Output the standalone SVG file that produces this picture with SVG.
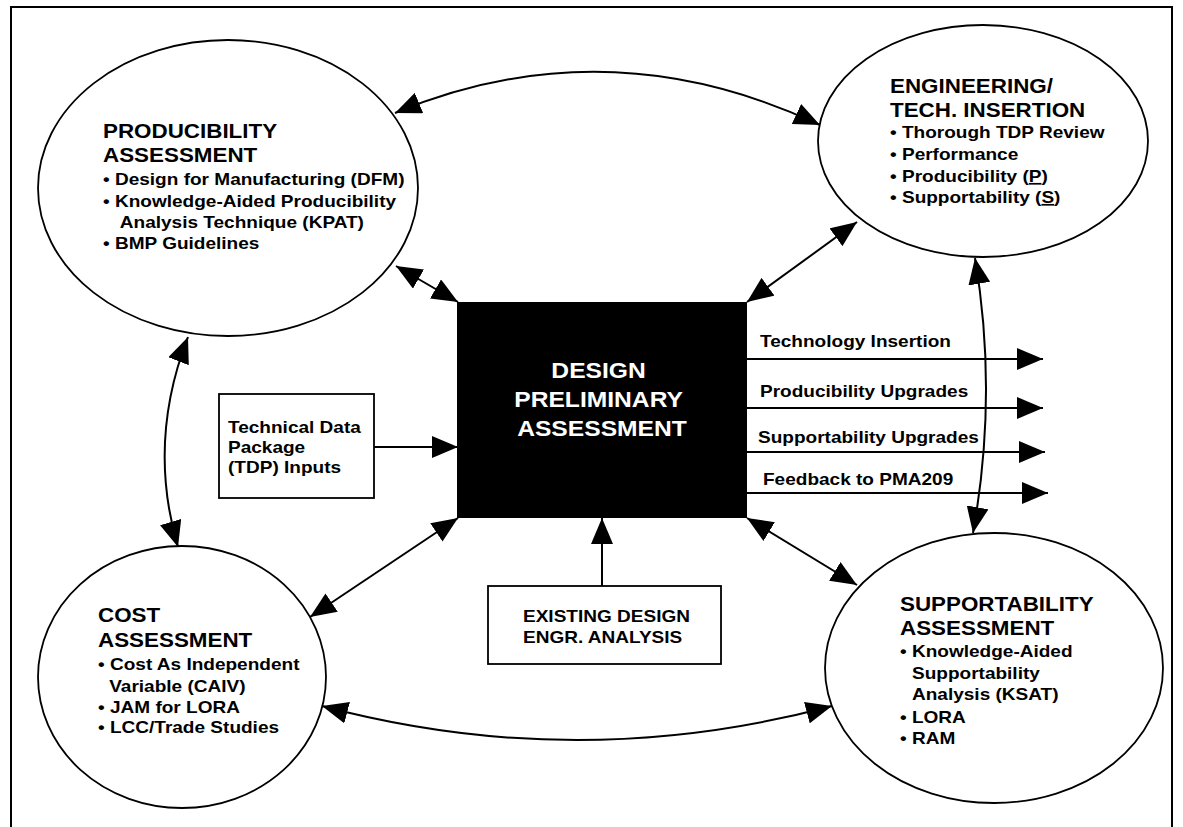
<svg xmlns="http://www.w3.org/2000/svg" width="1183" height="827" viewBox="0 0 1183 827">
<style>
.bg{fill:#fff}
.frame{fill:none;stroke:#000;stroke-width:2}
.ell{fill:#fff;stroke:#000;stroke-width:1.8}
.box{fill:#fff;stroke:#000;stroke-width:1.8}
.conn{fill:none;stroke:#000;stroke-width:2}
text{font-family:"Liberation Sans",Arial,Helvetica,sans-serif;font-weight:bold;fill:#000}
.h{font-size:20px}
.b{font-size:17px}
.c{font-size:22px;fill:#fff}
</style>
<defs>
<marker id="ah" viewBox="0 0 26 22" markerWidth="26" markerHeight="22" refX="26" refY="11" orient="auto-start-reverse" markerUnits="userSpaceOnUse">
<path d="M0,0 L26,11 L0,22 Z" fill="#000"/>
</marker>
</defs>
<rect class="bg" x="0" y="0" width="1183" height="827"/>
<path class="frame" d="M11,840 L11,7 L1172,7 L1172,840"/>

<g id="connectors">
<path class="conn" d="M395,113 Q607,25 820,125" marker-start="url(#ah)" marker-end="url(#ah)"/>
<path class="conn" d="M396,266 L458,302" marker-start="url(#ah)" marker-end="url(#ah)"/>
<path class="conn" d="M857,222 L747,302" marker-start="url(#ah)" marker-end="url(#ah)"/>
<path class="conn" d="M975,258 Q998,394 973,533" marker-start="url(#ah)" marker-end="url(#ah)"/>
<path class="conn" d="M188,337 Q147,442 178,547" marker-start="url(#ah)" marker-end="url(#ah)"/>
<path class="conn" d="M310,617 L458,518" marker-start="url(#ah)" marker-end="url(#ah)"/>
<path class="conn" d="M322,706 Q577,774 832,706" marker-start="url(#ah)" marker-end="url(#ah)"/>
<path class="conn" d="M747,518 L857,585" marker-start="url(#ah)" marker-end="url(#ah)"/>
<path class="conn" d="M374,447 L458,447" marker-end="url(#ah)"/>
<path class="conn" d="M602,586 L602,518" marker-end="url(#ah)"/>
<path class="conn" d="M747,359 L1043,359" marker-end="url(#ah)"/>
<path class="conn" d="M747,408 L1043,408" marker-end="url(#ah)"/>
<path class="conn" d="M747,452 L1045,452" marker-end="url(#ah)"/>
<path class="conn" d="M747,493 L1048,493" marker-end="url(#ah)"/>
</g>

<g id="producibility">
<ellipse class="ell" cx="228" cy="188" rx="190" ry="148"/>
<text transform="translate(103,0) scale(1.12,1)">
<tspan class="h" x="0" y="138">PRODUCIBILITY</tspan>
<tspan class="h" x="0" y="162">ASSESSMENT</tspan>
<tspan class="b" x="0" y="185">• Design for Manufacturing (DFM)</tspan>
<tspan class="b" x="0" y="207">• Knowledge-Aided Producibility</tspan>
<tspan class="b" x="15" y="228">Analysis Technique (KPAT)</tspan>
<tspan class="b" x="0" y="249">• BMP Guidelines</tspan>
</text>
</g>

<g id="engineering">
<ellipse class="ell" cx="983" cy="141" rx="165" ry="116"/>
<text transform="translate(890,0) scale(1.12,1)">
<tspan class="h" x="0" y="93">ENGINEERING/</tspan>
<tspan class="h" x="0" y="117">TECH. INSERTION</tspan>
<tspan class="b" x="0" y="138">• Thorough TDP Review</tspan>
<tspan class="b" x="0" y="160">•  Performance</tspan>
<tspan class="b" x="0" y="182">•  Producibility (<tspan text-decoration="underline">P</tspan>)</tspan>
<tspan class="b" x="0" y="203">•  Supportability (<tspan text-decoration="underline">S</tspan>)</tspan>
</text>
</g>

<g id="cost">
<ellipse class="ell" cx="182" cy="677" rx="144" ry="131"/>
<text transform="translate(98,0) scale(1.12,1)">
<tspan class="h" x="0" y="622">COST</tspan>
<tspan class="h" x="0" y="647">ASSESSMENT</tspan>
<tspan class="b" x="0" y="670">• Cost As Independent</tspan>
<tspan class="b" x="10" y="692">Variable (CAIV)</tspan>
<tspan class="b" x="0" y="713">• JAM for LORA</tspan>
<tspan class="b" x="0" y="733">•  LCC/Trade Studies</tspan>
</text>
</g>

<g id="supportability">
<ellipse class="ell" cx="994" cy="668" rx="169" ry="135"/>
<text transform="translate(900,0) scale(1.12,1)">
<tspan class="h" x="0" y="611">SUPPORTABILITY</tspan>
<tspan class="h" x="0" y="635">ASSESSMENT</tspan>
<tspan class="b" x="0" y="657">• Knowledge-Aided</tspan>
<tspan class="b" x="10.7" y="679">Supportability</tspan>
<tspan class="b" x="10.7" y="700">Analysis (KSAT)</tspan>
<tspan class="b" x="0" y="723">• LORA</tspan>
<tspan class="b" x="0" y="744">• RAM</tspan>
</text>
</g>

<g id="design-preliminary">
<rect x="457" y="302" width="290" height="216" fill="#000"/>
<text class="c" text-anchor="middle" transform="translate(602,0) scale(1.12,1)">
<tspan x="0" y="378">DESIGN</tspan>
<tspan x="0" y="407">PRELIMINARY</tspan>
<tspan x="0" y="436">ASSESSMENT</tspan>
</text>
</g>

<g id="tdp-inputs">
<rect class="box" x="219" y="394" width="155" height="104"/>
<text class="b" transform="translate(228,0) scale(1.12,1)">
<tspan x="0" y="433">Technical Data</tspan>
<tspan x="0" y="453">Package</tspan>
<tspan x="0" y="473">(TDP) Inputs</tspan>
</text>
</g>

<g id="existing-design">
<rect class="box" x="488" y="586" width="233" height="78"/>
<text class="b" transform="translate(523,0) scale(1.12,1)">
<tspan x="0" y="622">EXISTING DESIGN</tspan>
<tspan x="0" y="643">ENGR. ANALYSIS</tspan>
</text>
</g>

<g id="output-labels">
<text class="b" transform="translate(760,0) scale(1.12,1)"><tspan x="0" y="347">Technology Insertion</tspan></text>
<text class="b" transform="translate(760,0) scale(1.12,1)"><tspan x="0" y="397">Producibility Upgrades</tspan></text>
<text class="b" transform="translate(758,0) scale(1.12,1)"><tspan x="0" y="443">Supportability Upgrades</tspan></text>
<text class="b" transform="translate(763,0) scale(1.12,1)"><tspan x="0" y="485">Feedback to PMA209</tspan></text>
</g>
</svg>
